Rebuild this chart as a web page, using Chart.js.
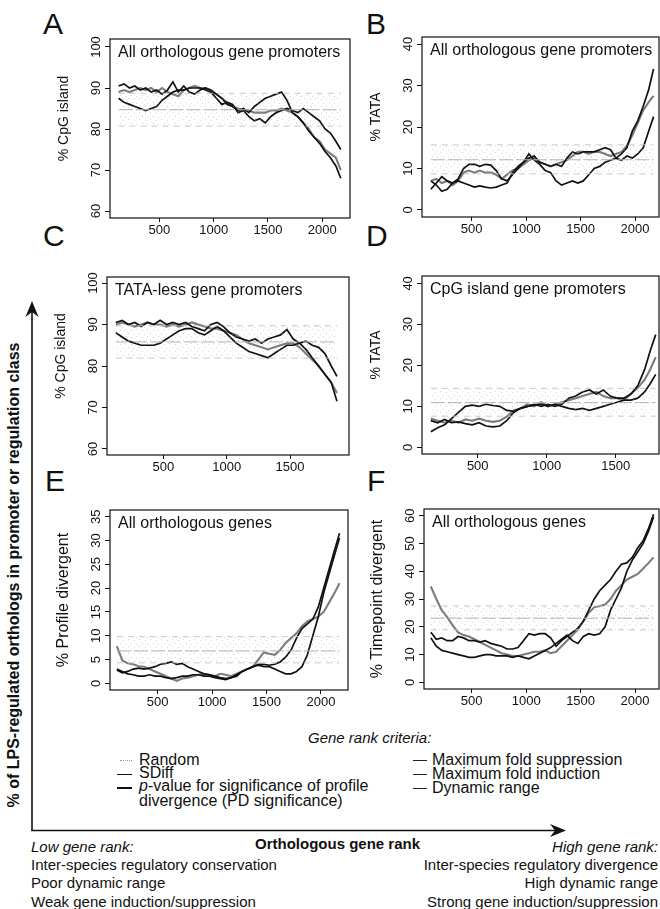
<!DOCTYPE html>
<html><head><meta charset="utf-8">
<script src="https://cdn.jsdelivr.net/npm/chart.js@4.4.1/dist/chart.umd.min.js"></script>
<style>
html,body{margin:0;padding:0;background:#fff;overflow:hidden;}
#fig{position:relative;width:660px;height:909px;overflow:hidden;font-family:"Liberation Sans",Arial,sans-serif;color:#111;background:#fff;}
.t{position:absolute;white-space:nowrap;line-height:1;transform:translateY(-50%);}
.r{text-align:right;}
canvas{position:absolute;}
.mk{position:absolute;height:0;}
</style></head><body><div id="fig">
<svg style="position:absolute;left:0;top:0" width="660" height="909">
  <line x1="32" y1="830.5" x2="32" y2="312" stroke="#111" stroke-width="1.6"/>
  <polygon points="32,301 25.5,317 32,312 38.5,317" fill="#111"/>
  <line x1="31.2" y1="830.5" x2="556" y2="830.5" stroke="#111" stroke-width="1.6"/>
  <polygon points="566,830.5 550,824 555,830.5 550,837" fill="#111"/>
</svg>
<div class="t" style="left:14px;top:575px;font-weight:bold;font-size:16px;transform:translate(-50%,-50%) rotate(-90deg);">% of LPS-regulated orthologs in promoter or regulation class</div>

<div class="t" style="left:43px;top:24px;font-size:30px;">A</div>
<div class="t" style="left:366px;top:24px;font-size:30px;">B</div>
<div class="t" style="left:43px;top:236px;font-size:30px;">C</div>
<div class="t" style="left:366px;top:236px;font-size:30px;">D</div>
<div class="t" style="left:45px;top:481px;font-size:30px;">E</div>
<div class="t" style="left:367px;top:481px;font-size:30px;">F</div>

<div class="t" style="left:308px;top:737px;font-size:15px;font-style:italic;">Gene rank criteria:</div>
<div class="mk" style="left:120px;top:760px;width:12px;border-top:1px dotted #999;"></div>
<div class="mk" style="left:117px;top:774px;width:15px;border-top:1.6px solid #111;"></div>
<div class="mk" style="left:117px;top:787px;width:15px;border-top:2px solid #111;"></div>
<div class="t" style="left:139px;top:760px;font-size:16px;">Random</div>
<div class="t" style="left:139px;top:773px;font-size:16px;">SDiff</div>
<div class="t" style="left:139px;top:786px;font-size:16px;"><i>p</i>-value for significance of profile</div>
<div class="t" style="left:139px;top:801px;font-size:16px;">divergence (PD significance)</div>
<div class="mk" style="left:413px;top:760px;width:14px;border-top:1.3px solid #222;"></div>
<div class="mk" style="left:413px;top:774px;width:14px;border-top:1.3px solid #222;"></div>
<div class="mk" style="left:413px;top:788px;width:14px;border-top:1.3px solid #222;"></div>
<div class="t" style="left:432px;top:760px;font-size:16px;">Maximum fold suppression</div>
<div class="t" style="left:432px;top:774px;font-size:16px;">Maximum fold induction</div>
<div class="t" style="left:432px;top:788px;font-size:16px;">Dynamic range</div>

<div class="t" style="left:255px;top:843px;font-size:15px;font-weight:bold;">Orthologous gene rank</div>
<div class="t" style="left:31px;top:846px;font-size:15px;font-style:italic;">Low gene rank:</div>
<div class="t" style="left:31px;top:864px;font-size:15px;">Inter-species regulatory conservation</div>
<div class="t" style="left:31px;top:882px;font-size:15px;">Poor dynamic range</div>
<div class="t" style="left:31px;top:901px;font-size:15px;">Weak gene induction/suppression</div>
<div class="t r" style="right:2px;top:846px;font-size:15px;font-style:italic;">High gene rank:</div>
<div class="t r" style="right:2px;top:864px;font-size:15px;">Inter-species regulatory divergence</div>
<div class="t r" style="right:2px;top:882px;font-size:15px;">High dynamic range</div>
<div class="t r" style="right:2px;top:901px;font-size:15px;">Strong gene induction/suppression</div>
</div>
<script>
// ---------- tick labels ----------
const xTicksLong = [500, 1000, 1500, 2000];
const xTicksShort = [500, 1000, 1500];
const yTicksCpG = [60, 70, 80, 90, 100];
const yTicksTATA = [0, 10, 20, 30, 40];
const yTicksProfile = [0, 5, 10, 15, 20, 25, 30, 35];
const yTicksTime = [0, 10, 20, 30, 40, 50, 60];

// ---------- gene ranks (window centres) ----------
const rankAll = [125,175,225,275,325,375,425,475,525,575,625,675,725,775,825,875,925,975,1025,1075,1125,1175,1225,1275,1325,1375,1425,1475,1525,1575,1625,1675,1725,1775,1825,1875,1925,1975,2025,2075,2125,2170];
const rankTataLess = [125,175,225,275,325,375,425,475,525,575,625,675,725,775,825,875,925,975,1025,1075,1125,1175,1225,1275,1325,1375,1425,1475,1525,1575,1625,1675,1725,1775,1825,1870];
const rankCpgProm = [160,210,260,310,360,410,460,510,560,610,660,710,760,810,860,910,960,1010,1060,1110,1160,1210,1260,1310,1360,1410,1460,1510,1560,1610,1660,1710,1750,1790];

// ---------- random expectation [lower, mean, upper] ----------
const randA = [80.7, 84.7, 88.7];
const randB = [8.7, 12.1, 15.7];
const randC = [81.9, 85.8, 89.7];
const randD = [7.6, 10.9, 14.4];
const randE = [4.3, 6.8, 9.8];
const randF = [18.9, 23.1, 27.5];

// ---------- A: % CpG island, all orthologous promoters ----------
const cpgAllBlack1 = [90.5,91,90,90.5,89.5,90,89,89.5,88.5,89.5,91.5,89,90.5,89,88.5,89.5,90,89.5,88.5,87.5,86,85.5,84.5,85,84,85.5,86.5,87.5,88,88.5,89,87,84,83,81.5,79.5,78,76.5,74.5,73,71,68];
const cpgAllBlack2 = [87.5,86.5,86,85.5,85,84.5,85,85.5,87,88,89,89.5,89.5,90,90,90,89.5,89,87.5,86,86.5,86,84,84.5,83,82,82.5,81.5,83,84,84.5,85,84.5,84,85,84,83,82,80,79,77,75];
const cpgAllGray = [89,89.5,89,89.5,90,89.5,90,89,90,89,88.5,88,89.5,90,90.5,90,90,89,88.5,87.5,86.5,85.5,85,84.5,84.5,84,84,84,84.5,84.5,85,84.5,84,83,81.5,80,78,77,75,74,73,70];

// ---------- B: % TATA, all orthologous promoters ----------
const tataAllBlack1 = [7,6,4.5,5,6.5,7,6.5,6,5.5,5.8,5.5,5.3,5.5,6,6.5,9,10.5,11.5,13.5,12,11,9.5,9,7,6,6.5,7,6.5,7,8.5,10,10.5,11.5,12,12.5,12,13,12.5,13.5,15,19,22.5];
const tataAllBlack2 = [5,6.5,8,7,6.5,7.5,10,11,11,10.5,11,10.8,9.5,7.5,7,8.5,10,11.5,12.5,13,11.5,11,10.5,11,10.5,12.5,14,13.5,14,14,14,14.5,15,14.5,12.5,13.5,15,19,21.5,25,29,34];
const tataAllGray = [7,7.5,6.5,7,6,7,9,9.5,9,9.5,9,9,8.5,7.5,8.5,9.5,10,11,12,12.5,11.5,11,10.5,11,11.5,12,13,14,14,13.5,14,14,13.5,13,13.5,14,15.5,18,21,24,26,27.5];

// ---------- C: % CpG island, TATA-less promoters ----------
const cpgTlBlack1 = [90.5,91,90,90.5,89.5,90.5,90,91,90,90.5,90,90.5,89.5,89,88.5,90,90.5,89.5,88,87,86.5,86,86.5,85.5,86.5,87,87.5,88.8,86.5,85.5,84,82,80,78,76,71.5];
const cpgTlBlack2 = [88,87,86,85.5,85,85,85,85.5,86.5,87.5,88.5,89,89,88,87.5,88.5,89.5,88.5,87,85.5,84.5,83.5,83,82.5,82,83,84,85,85,85.5,86,85,84.5,83,80,77.5];
const cpgTlGray = [90,90.5,90,89.5,90,90.5,90,90,89.5,90,89.5,90,90.5,90,89.5,89,89,88.5,88,87.5,86.5,85.5,85,84.5,84,84.5,85,85.5,85.5,84.5,83,81.5,80,78,76,73.5];

// ---------- D: % TATA, CpG island promoters ----------
const tataCpgBlack1 = [3.8,4.8,5.5,7,8.5,10,10.3,10,10.5,10.2,10,9,8.8,9.5,10,10.3,10.5,10,10.5,10,9.5,9.2,9.5,9,9.5,10,10.5,11,11.5,11.5,12,13.5,15.5,17.8];
const tataCpgBlack2 = [6.5,6,6.8,6,6.2,5.8,5.5,6,5.2,5,5.2,6.5,8.5,9.5,10,10.5,10,10.5,10,10.5,12,12.5,13.5,14,13,14,12.5,12,12,13,15,19,23.5,27.5];
const tataCpgGray = [7,6.5,6,6.5,6,6.8,6.5,7,6.5,6.2,6.5,7.5,9,9.5,10.5,10,11,10,10.5,11,11.5,12,12.5,13,13.5,12.5,12,12,11.5,13,14.5,16.5,19,22];

// ---------- E: % profile divergent, all orthologous genes ----------
const profBlack1 = [2.8,2.2,2.5,3,3.2,3,3.2,3.5,4,4.2,4.5,4,4.2,3.5,3,2.5,2,1.8,1.5,1.2,1,1.2,1.8,2.5,3,3.5,4,4,3.8,4,4.5,5.5,7,9.5,11.5,12.5,13.5,16,20,24,28,31.5];
const profBlack2 = [3,2.5,2,1.8,1.5,1.5,1.8,1.5,1.5,1.2,1,1.2,1.5,1.5,1.8,1.8,1.5,1.5,1.2,1,0.8,1.2,1.5,2.5,3,3.5,3.8,3.5,3.5,3,2.5,2,2,2.5,3.5,6,10,14,19,23,27,30.5];
const profGray = [7.8,4.8,4.2,4,3.6,3.5,3,2.5,2,1.5,1,0.5,1,1.2,1.5,1.8,2,1.8,1.5,2,1.8,1.5,2,2.5,3,3.5,5,6.5,6.2,6,7,8.5,9.5,10.5,12,13,13.5,14,15,17,19,21];

// ---------- F: % timepoint divergent, all orthologous genes ----------
const timeBlack1 = [18,15.5,16,15,15,16.5,16,15,15,14.5,15,14,13.5,13,12,12,12.5,15,17.5,17,17.5,17.5,16,13,15,16.5,18,19.5,22,26,30,33,35,37,40,42.5,43,45,48.5,51,55.5,60.5];
const timeBlack2 = [16,13,11.5,11,10.5,10,9.5,9,9,9.5,10,10,9.5,9.5,9.5,9,9.5,9,8.5,9.5,10.5,11.5,12.5,14,15.5,17,15,14,16.5,17.5,17,17.5,20,26,30,34,40,44,47,50,54.5,59.5];
const timeGray = [34.5,30,26,23.5,20.5,18,17,16.5,15.5,14.5,13.5,12.5,11.5,10.5,10,9.5,9.5,10,10.5,11,11,11.5,10.5,11,13,15,17,19,22,25,27,27.5,28,30,33,35,37,38,39,41,43,45];

const FONT = '"Liberation Sans", Arial, sans-serif';

// speckle texture for the random-expectation band (fixed dot tile)
function speckle() {
  const c = document.createElement('canvas'); c.width = 11; c.height = 7;
  const g = c.getContext('2d');
  g.fillStyle = 'rgba(150,150,150,0.4)';
  g.fillRect(1, 1, 1, 1); g.fillRect(7, 2, 1, 1); g.fillRect(4, 5, 1, 1); g.fillRect(9, 6, 1, 1);
  return g.createPattern(c, 'repeat');
}

const panelPlugin = {
  id: 'panelDecor',
  afterDatasetsDraw(chart, args, o) {
    const ctx = chart.ctx, a = chart.chartArea, ys = chart.scales.y;
    ctx.save();
    ctx.strokeStyle = '#111'; ctx.lineWidth = 1.2;
    ctx.strokeRect(a.left, a.top, a.right - a.left, a.bottom - a.top);
    ctx.fillStyle = '#111';
    ctx.textAlign = 'center'; ctx.textBaseline = 'middle';
    ctx.font = '13px ' + FONT;
    ys.ticks.forEach(t => {
      const py = ys.getPixelForValue(t.value);
      ctx.save(); ctx.translate(a.left - 14, py); ctx.rotate(-Math.PI / 2);
      ctx.fillText(String(t.value), 0, 0); ctx.restore();
    });
    ctx.font = o.ytSize + 'px ' + FONT;
    ctx.save(); ctx.translate(a.left - 46, (a.top + a.bottom) / 2 + o.ytShift); ctx.rotate(-Math.PI / 2);
    ctx.fillText(o.ytitle, 0, 0); ctx.restore();
    ctx.font = '16px ' + FONT; ctx.textAlign = 'left';
    ctx.fillText(o.title, a.left + 8, a.top + 14);
    ctx.restore();
  }
};

function series(ranks, vals, color, width) {
  return { data: ranks.map((r, i) => ({ x: r, y: vals[i] })), borderColor: color, borderWidth: width,
           pointRadius: 0, tension: 0, fill: false };
}
function randomSets(ranks, rnd) {
  const x0 = ranks[0], x1 = ranks[ranks.length - 1];
  const flat = v => [{ x: x0, y: v }, { x: x1, y: v }];
  return [
    { data: flat(rnd[0]), borderColor: '#c8c8c8', borderWidth: 1, borderDash: [6, 5], pointRadius: 0, fill: false },
    { data: flat(rnd[2]), borderColor: '#c8c8c8', borderWidth: 1, borderDash: [6, 5], pointRadius: 0, fill: '-1', backgroundColor: speckle() },
    { data: flat(rnd[1]), borderColor: '#b4b4b4', borderWidth: 1, borderDash: [14, 3], pointRadius: 0, fill: false }
  ];
}

const panels = [
  { box: [110, 39, 350, 218], x: [46, 2255], y: [58.3, 101.95], xt: xTicksLong, yt: yTicksCpG, ytitle: '% CpG island', ytSize: 14, ytShift: -10,
    title: 'All orthologous gene promoters', ranks: rankAll, rnd: randA, blacks: [cpgAllBlack1, cpgAllBlack2], gray: cpgAllGray },
  { box: [422, 37, 659, 217], x: [43.5, 2220], y: [-1.7, 41.7], xt: xTicksLong, yt: yTicksTATA, ytitle: '% TATA', ytSize: 14, ytShift: -10,
    title: 'All orthologous gene promoters', ranks: rankAll, rnd: randB, blacks: [tataAllBlack1, tataAllBlack2], gray: tataAllGray },
  { box: [107, 277, 349, 455], x: [55.6, 1965], y: [58.55, 101.45], xt: xTicksShort, yt: yTicksCpG, ytitle: '% CpG island', ytSize: 14, ytShift: -10,
    title: 'TATA-less gene promoters', ranks: rankTataLess, rnd: randC, blacks: [cpgTlBlack1, cpgTlBlack2], gray: cpgTlGray },
  { box: [422, 276, 659, 454], x: [96, 1814], y: [-1.63, 41.8], xt: xTicksShort, yt: yTicksTATA, ytitle: '% TATA', ytSize: 14, ytShift: -10,
    title: 'CpG island gene promoters', ranks: rankCpgProm, rnd: randD, blacks: [tataCpgBlack1, tataCpgBlack2], gray: tataCpgGray },
  { box: [110, 510, 348, 690], x: [62, 2248], y: [-1.4, 36.4], xt: xTicksLong, yt: yTicksProfile, ytitle: '% Profile divergent', ytSize: 16, ytShift: 0,
    title: 'All orthologous genes', ranks: rankAll, rnd: randE, blacks: [profBlack1, profBlack2], gray: profGray },
  { box: [424, 509, 659, 689], x: [62, 2220], y: [-2.4, 62.4], xt: xTicksLong, yt: yTicksTime, ytitle: '% Timepoint divergent', ytSize: 16, ytShift: 0,
    title: 'All orthologous genes', ranks: rankAll, rnd: randF, blacks: [timeBlack1, timeBlack2], gray: timeGray }
];

const fig = document.getElementById('fig');
const M = { l: 60, r: 5, t: 5, b: 28 };
panels.forEach(p => {
  const [bl, bt, br, bb] = p.box;
  const W = br - bl + M.l + M.r, H = bb - bt + M.t + M.b;
  const cv = document.createElement('canvas');
  cv.width = W; cv.height = H;
  cv.style.left = (bl - M.l) + 'px'; cv.style.top = (bt - M.t) + 'px';
  cv.style.width = W + 'px'; cv.style.height = H + 'px';
  fig.appendChild(cv);
  const datasets = randomSets(p.ranks, p.rnd)
    .concat([series(p.ranks, p.blacks[0], '#111', 1.7), series(p.ranks, p.blacks[1], '#111', 1.7),
             series(p.ranks, p.gray, '#7c7c7c', 2.1)]);
  new Chart(cv, {
    type: 'line',
    data: { datasets },
    plugins: [panelPlugin],
    options: {
      responsive: false, animation: false, devicePixelRatio: 1,
      layout: { padding: { top: M.t, right: M.r, left: 0, bottom: 0 } },
      plugins: { legend: { display: false }, tooltip: { enabled: false },
                 panelDecor: { ytitle: p.ytitle, ytSize: p.ytSize, ytShift: p.ytShift, title: p.title } },
      scales: {
        x: { type: 'linear', min: p.x[0], max: p.x[1],
             afterBuildTicks: s => { s.ticks = p.xt.map(v => ({ value: v })); },
             afterFit: s => { s.height = M.b; },
             grid: { drawOnChartArea: false, drawTicks: true, tickLength: 4, color: '#111', lineWidth: 1 },
             border: { display: false },
             ticks: { padding: 1, color: '#111', font: { size: 13, family: FONT }, maxRotation: 0, minRotation: 0, autoSkip: false,
                      callback: v => String(v) } },
        y: { type: 'linear', min: p.y[0], max: p.y[1],
             afterBuildTicks: s => { s.ticks = p.yt.map(v => ({ value: v })); },
             afterFit: s => { s.width = M.l; },
             grid: { drawOnChartArea: false, drawTicks: true, tickLength: 5, color: '#111', lineWidth: 1 },
             border: { display: false },
             ticks: { display: false } }
      }
    }
  });
});
</script>
</body></html>
